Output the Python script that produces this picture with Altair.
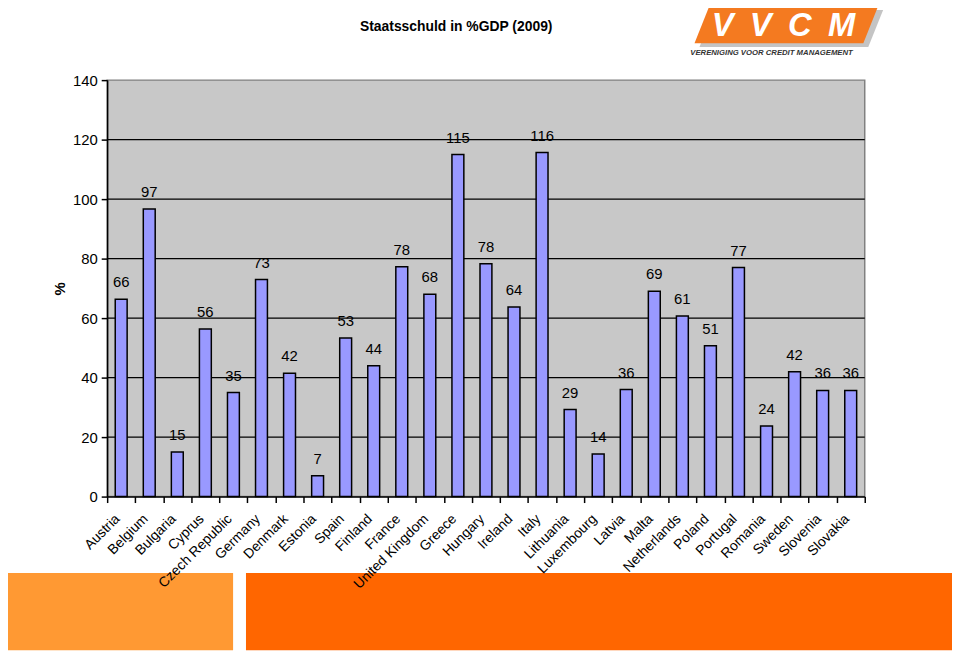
import altair as alt
import pandas as pd

countries = ["Austria", "Belgium", "Bulgaria", "Cyprus", "Czech Republic", "Germany",
             "Denmark", "Estonia", "Spain", "Finland", "France", "United Kingdom",
             "Greece", "Hungary", "Ireland", "Italy", "Lithuania", "Luxembourg",
             "Latvia", "Malta", "Netherlands", "Poland", "Portugal", "Romania",
             "Sweden", "Slovenia", "Slovakia"]
debt = [66.3, 96.7, 15.0, 56.3, 35.0, 73.0, 41.5, 7.0, 53.3, 44.0, 77.3, 68.0,
        115.0, 78.3, 63.7, 115.7, 29.3, 14.3, 36.0, 69.0, 60.7, 50.7, 77.0, 23.7,
        42.0, 35.7, 35.7]
labels = [66, 97, 15, 56, 35, 73, 42, 7, 53, 44, 78, 68, 115, 78, 64, 116, 29, 14,
          36, 69, 61, 51, 77, 24, 42, 36, 36]
y_ticks = [0, 20, 40, 60, 80, 100, 120, 140]
grid_lines = [20, 40, 60, 80, 100, 120]

title_text = "Staatsschuld in %GDP (2009)"
logo_text = "V\u2002V\u2002C\u2002M"
logo_sub = "VERENIGING VOOR CREDIT MANAGEMENT"

FONT = "Liberation Sans"

df = pd.DataFrame({"country": countries, "debt": debt, "label": labels})
grid_df = pd.DataFrame({"v": grid_lines})
one = pd.DataFrame({"t": [title_text], "logo": [logo_text], "sub": [logo_sub]})

x_enc = alt.X("country:N", sort=countries, title=None,
              scale=alt.Scale(paddingInner=0, paddingOuter=0),
              axis=alt.Axis(labelAngle=-45, labelAlign="right", labelBaseline="middle",
                            labelPadding=14, labelOffset=-4, labelFontSize=14,
                            labelFont=FONT, labelColor="black", tickBand="extent",
                            tickSize=6, tickColor="black", tickWidth=1.5,
                            domainColor="black", domainWidth=1.5, zindex=1,
                            labelOverlap=False, labelBound=False))
y_enc = alt.Y("debt:Q", scale=alt.Scale(domain=[0, 140], nice=False),
              axis=alt.Axis(values=y_ticks, grid=False, tickSize=6, tickColor="black",
                            tickWidth=1.5, domainColor="black", domainWidth=1.5,
                            labelFontSize=15, labelFont=FONT,
                            labelColor="black", labelPadding=4, title="%",
                            titleFont=FONT, titleFontSize=15, titleFontWeight="bold",
                            titleColor="black",
                            titleAngle=-90, titleX=-40, titleY=210, zindex=1))

deco_light = alt.Chart(one).mark_rect(color="#FF9933").encode(
    x=alt.value(-100), x2=alt.value(127), y=alt.value(497), y2=alt.value(575))
deco_dark = alt.Chart(one).mark_rect(color="#FF6600").encode(
    x=alt.value(140), x2=alt.value(860), y=alt.value(497), y2=alt.value(575))

grid = alt.Chart(grid_df).mark_rule(color="black", strokeWidth=1.3).encode(
    y=alt.Y("v:Q", scale=alt.Scale(domain=[0, 140], nice=False)))

bars = alt.Chart(df).mark_bar(size=12, color="#9999FF", stroke="black",
                              strokeWidth=1.5).encode(x=x_enc, y=y_enc)

text = alt.Chart(df).mark_text(dy=-17, fontSize=15, font=FONT, color="black",
                               baseline="middle").encode(
    x=alt.X("country:N", sort=countries), y="debt:Q", text="label:Q")

title = alt.Chart(one).mark_text(fontSize=14, fontWeight="bold", font=FONT,
                                 color="black").encode(
    text="t:N", x=alt.value(352), y=alt.value(-54))

shape = "M -0.82 -0.2 L 1 -0.2 L 0.84 0.2 L -0.98 0.2 Z"
logo_shadow = alt.Chart(one).mark_point(
    shape=shape, filled=True, color="#C4C4C4", size=35000, opacity=1).encode(
    x=alt.value(689), y=alt.value(-52))
logo_bg = alt.Chart(one).mark_point(
    shape=shape, filled=True, color="#F47A20", size=35000, opacity=1).encode(
    x=alt.value(684), y=alt.value(-56))
logo = alt.Chart(one).mark_text(fontSize=33, fontWeight="bold", fontStyle="italic",
                                font=FONT, color="white").encode(
    text="logo:N", x=alt.value(682), y=alt.value(-55))
logo2 = alt.Chart(one).mark_text(fontSize=7.8, fontWeight="bold", fontStyle="italic",
                                 font=FONT, color="#333333").encode(
    text="sub:N", x=alt.value(670), y=alt.value(-27))

chart = alt.layer(deco_light, deco_dark, grid, bars, text, title,
                  logo_shadow, logo_bg, logo, logo2).properties(
    width=764, height=420,
    autosize=alt.AutoSizeParams(type="none"),
    padding={"left": 100, "top": 70, "right": 88, "bottom": 155},
    background="white",
).configure_view(fill="#C8C8C8", stroke="#808080", strokeWidth=1.5)

chart.save("out.html", embed_options={"renderer": "svg", "actions": False})
